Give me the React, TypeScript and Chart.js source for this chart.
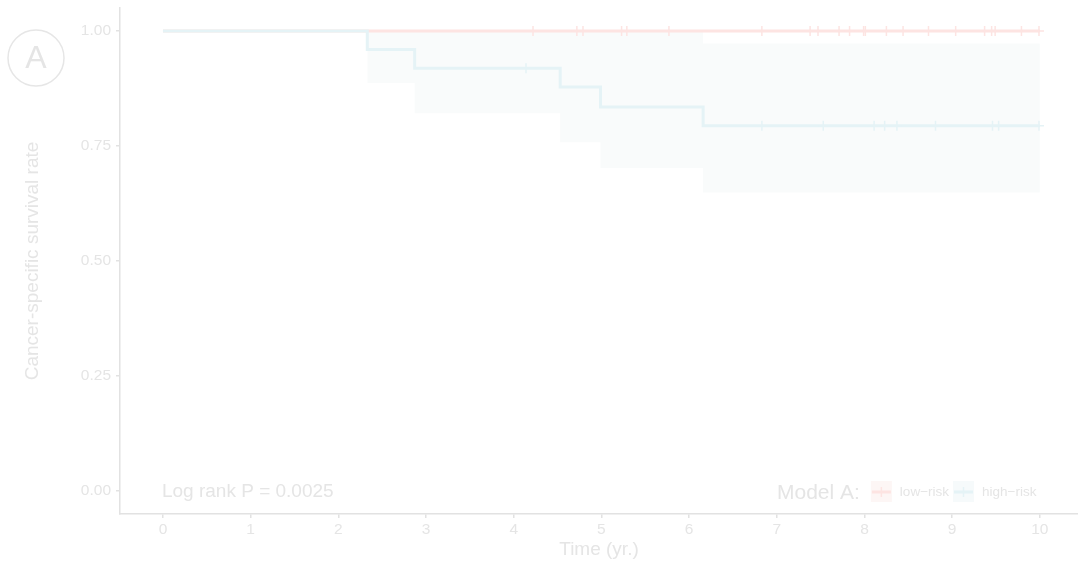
import React, { useEffect, useRef } from 'react';
import { Chart, registerables } from 'chart.js';

Chart.register(...registerables);

// Kaplan-Meier steps (time in years, survival)
const lowRiskTimes = [0, 10];
const lowRiskSurv = [1, 1];
const highRiskTimes = [0, 2.33, 2.87, 4.53, 4.99, 6.16, 10];
const highRiskSurv = [1, 0.96, 0.919, 0.878, 0.835, 0.794, 0.794];

// 95% confidence band of the high-risk curve
const bandTimes = [2.33, 2.87, 4.53, 4.99, 6.16, 10];
const bandUpper = [1, 1, 1, 1, 0.973, 0.973];
const bandLower = [0.887, 0.821, 0.758, 0.702, 0.649, 0.649];

// censoring marks
const lowCensorTimes = [4.22, 4.72, 4.79, 5.23, 5.29, 5.77, 6.83, 7.38, 7.47, 7.71, 7.83, 7.99, 8.01, 8.25, 8.44, 8.73, 9.04, 9.37, 9.45, 9.49, 9.79, 9.99];
const lowCensorSurv = [1, 1, 1, 1, 1, 1, 1, 1, 1, 1, 1, 1, 1, 1, 1, 1, 1, 1, 1, 1, 1, 1];
const highCensorTimes = [4.14, 6.83, 7.53, 8.11, 8.23, 8.37, 8.81, 9.46, 9.53, 9.99];
const highCensorSurv = [0.919, 0.794, 0.794, 0.794, 0.794, 0.794, 0.794, 0.794, 0.794, 0.794];

const xTicks = [0, 1, 2, 3, 4, 5, 6, 7, 8, 9, 10];
const yTicks = [0, 0.25, 0.5, 0.75, 1];
const groupLabels = ['low\u2212risk', 'high\u2212risk'];

const FONT = '"Liberation Sans", Arial, sans-serif';
const TEXT = '#e5e5e5';
const AXIS = '#e2e2e2';
const RED = '#fde4e2';
const BLUE = '#e5f3f6';
const BAND = '#f9fbfb';

const toPoints = (xs: number[], ys: number[]) => xs.map((x, i) => ({ x, y: ys[i] }));

const annotations = {
  id: 'annotations',
  afterDraw(chart: any) {
    const ctx = chart.ctx;
    const { x, y } = chart.scales;
    ctx.save();

    // panel letter
    ctx.strokeStyle = '#e6e6e6';
    ctx.lineWidth = 1.5;
    ctx.beginPath();
    ctx.arc(36, 58, 28, 0, Math.PI * 2);
    ctx.stroke();
    ctx.fillStyle = TEXT;
    ctx.font = `32px ${FONT}`;
    ctx.textAlign = 'center';
    ctx.textBaseline = 'middle';
    ctx.fillText('A', 36, 59);

    // p value
    ctx.textAlign = 'left';
    ctx.font = `19px ${FONT}`;
    ctx.fillText('Log rank P = 0.0025', x.getPixelForValue(0) - 1, y.getPixelForValue(0) + 1);

    // legend
    let lx = 777;
    const ly = 492;
    ctx.font = `21px ${FONT}`;
    ctx.fillText('Model A:', lx, ly + 1);
    lx += ctx.measureText('Model A:').width + 11;
    const keys = [
      { label: groupLabels[0], color: RED, bg: '#fdf6f5' },
      { label: groupLabels[1], color: BLUE, bg: '#f6fafb' },
    ];
    keys.forEach((k) => {
      ctx.fillStyle = k.bg;
      ctx.fillRect(lx, ly - 11, 21, 21);
      ctx.strokeStyle = k.color;
      ctx.lineWidth = 3;
      ctx.beginPath();
      ctx.moveTo(lx + 1, ly);
      ctx.lineTo(lx + 20, ly);
      ctx.stroke();
      ctx.lineWidth = 1.5;
      ctx.beginPath();
      ctx.moveTo(lx + 10.5, ly - 5);
      ctx.lineTo(lx + 10.5, ly + 5);
      ctx.stroke();
      lx += 29;
      ctx.fillStyle = TEXT;
      ctx.font = `13.5px ${FONT}`;
      ctx.fillText(k.label, lx, ly);
      lx += ctx.measureText(k.label).width + 4;
    });

    ctx.restore();
  },
};

export default function App() {
  const canvasRef = useRef<HTMLCanvasElement>(null);
  const chartRef = useRef<Chart | null>(null);

  useEffect(() => {
    document.body.style.margin = '0';
    if (!canvasRef.current) return;
    if (chartRef.current) chartRef.current.destroy();

    const stepLine = {
      stepped: 'before' as const,
      pointRadius: 0,
      borderWidth: 3,
      fill: false,
    };

    chartRef.current = new Chart(canvasRef.current, {
      type: 'line',
      data: {
        datasets: [
          {
            label: 'band upper',
            data: toPoints(bandTimes, bandUpper),
            stepped: 'before',
            pointRadius: 0,
            borderWidth: 0,
            borderColor: 'transparent',
            fill: false,
            order: 6,
          },
          {
            label: 'band lower',
            data: toPoints(bandTimes, bandLower),
            stepped: 'before',
            pointRadius: 0,
            borderWidth: 0,
            borderColor: 'transparent',
            backgroundColor: BAND,
            fill: '-1',
            order: 5,
          },
          { ...stepLine, label: groupLabels[0], data: toPoints(lowRiskTimes, lowRiskSurv), borderColor: RED, order: 4 },
          { ...stepLine, label: groupLabels[1], data: toPoints(highRiskTimes, highRiskSurv), borderColor: BLUE, order: 3 },
          {
            label: 'low censor',
            data: toPoints(lowCensorTimes, lowCensorSurv),
            showLine: false,
            pointStyle: 'cross',
            pointRadius: 5,
            borderWidth: 1.5,
            borderColor: RED,
            order: 2,
          },
          {
            label: 'high censor',
            data: toPoints(highCensorTimes, highCensorSurv),
            showLine: false,
            pointStyle: 'cross',
            pointRadius: 5,
            borderWidth: 1.5,
            borderColor: BLUE,
            order: 1,
          },
        ] as any,
      },
      options: {
        animation: false,
        responsive: true,
        maintainAspectRatio: false,
        layout: { autoPadding: false, padding: { top: 8, right: 0, left: 0, bottom: 0 } },
        plugins: {
          legend: { display: false },
          tooltip: { enabled: false },
        },
        scales: {
          x: {
            type: 'linear',
            min: -0.49,
            max: 10.435,
            afterBuildTicks: (scale: any) => {
              scale.ticks = xTicks.map((v) => ({ value: v }));
            },
            afterFit: (scale: any) => {
              scale.height = 51;
              scale.paddingLeft = 0;
              scale.paddingRight = 0;
            },
            grid: { drawOnChartArea: false, drawTicks: true, tickLength: 4, color: AXIS, lineWidth: 1.5 },
            border: { display: true, color: AXIS, width: 1.5 },
            ticks: { color: TEXT, font: { family: FONT, size: 15.5 }, padding: 2, maxRotation: 0, autoSkip: false },
            title: {
              display: true,
              text: 'Time (yr.)',
              color: TEXT,
              font: { family: FONT, size: 19 },
              padding: { top: 0, bottom: 4 },
            },
          },
          y: {
            type: 'linear',
            min: -0.05,
            max: 1.05,
            afterBuildTicks: (scale: any) => {
              scale.ticks = yTicks.map((v) => ({ value: v }));
            },
            afterFit: (scale: any) => {
              scale.width = 120;
              scale.paddingTop = 0;
              scale.paddingBottom = 0;
            },
            grid: { drawOnChartArea: false, drawTicks: true, tickLength: 4, color: AXIS, lineWidth: 1.5 },
            border: { display: true, color: AXIS, width: 1.5 },
            ticks: {
              color: TEXT,
              font: { family: FONT, size: 15.5 },
              padding: 5,
              autoSkip: false,
              callback: (v: any) => Number(v).toFixed(2),
            },
            title: {
              display: true,
              text: 'Cancer-specific survival rate',
              color: TEXT,
              font: { family: FONT, size: 19 },
              padding: { top: 21, bottom: 0 },
            },
          },
        },
      },
      plugins: [annotations],
    });

    return () => {
      if (chartRef.current) {
        chartRef.current.destroy();
        chartRef.current = null;
      }
    };
  }, []);

  return (
    <div style={{ position: 'absolute', left: 0, top: 0, width: '1078px', height: '565px', background: '#fff' }}>
      <canvas ref={canvasRef} aria-label="Kaplan-Meier cancer-specific survival curves" role="img"></canvas>
    </div>
  );
}
